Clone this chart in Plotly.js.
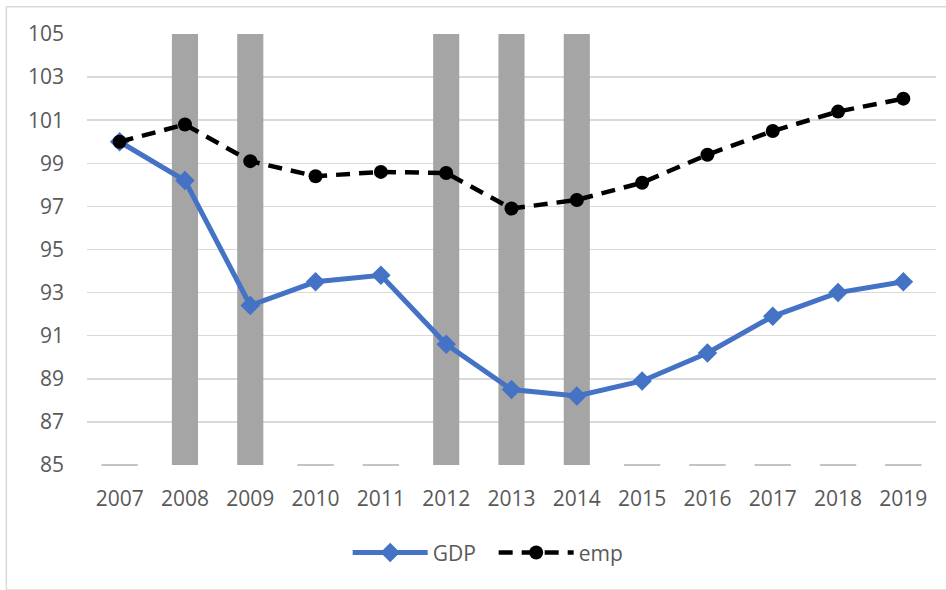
<!DOCTYPE html>
<html>
<head>
<meta charset="utf-8">
<script src="https://cdn.plot.ly/plotly-3.0.1.min.js"></script>
<style>html,body{margin:0;padding:0;background:#fff;}#chart{width:946px;height:590px;}</style>
</head>
<body>
<div id="chart"></div>
<script>
var years = ['2007','2008','2009','2010','2011','2012','2013','2014','2015','2016','2017','2018','2019'];
var gdp = [100.0, 98.2, 92.4, 93.5, 93.8, 90.6, 88.5, 88.2, 88.9, 90.2, 91.9, 93.0, 93.5];
var emp = [100.0, 100.8, 99.1, 98.4, 98.6, 98.55, 96.9, 97.3, 98.1, 99.4, 100.5, 101.4, 102.0];
var recession = [85, 105, 105, 85, 85, 105, 105, 105, 85, 85, 85, 85, 85];

var font = 'Open Sans, Liberation Sans, sans-serif';
var barX = years.filter(function(y, i){ return recession[i] > 85; });
var barY = recession.filter(function(v){ return v > 85; });
var flatX = years.filter(function(y, i){ return recession[i] <= 85; });
var flatY = recession.filter(function(v){ return v <= 85; });

var traces = [
  {type:'bar', x: barX, y: barY, marker:{color:'#a5a5a5'}, width:0.4, showlegend:false, hoverinfo:'skip'},
  {type:'scatter', mode:'markers', x: flatX, y: flatY, marker:{symbol:'line-ew', size:26, line:{color:'#b0b0b0', width:1.5}}, showlegend:false, hoverinfo:'skip', cliponaxis:false},
  {type:'scatter', mode:'lines+markers', name:'GDP', x: years, y: gdp,
   line:{color:'#4472c4', width:5}, marker:{symbol:'diamond', size:15, color:'#4472c4'}},
  {type:'scatter', mode:'lines+markers', name:'emp', x: years, y: emp,
   line:{color:'#000000', width:4.5, dash:'14px,9px'}, marker:{symbol:'circle', size:14, color:'#000000'}}
];

var layout = {
  width:946, height:590,
  margin:{l:87, r:10, t:34, b:125},
  paper_bgcolor:'#ffffff', plot_bgcolor:'#ffffff',
  font:{family:font, size:21, color:'#595959'},
  barmode:'overlay',
  xaxis:{type:'category', categoryorder:'array', categoryarray: years, range:[-0.5, 12.5], autorange:false,
         showgrid:false, showline:false, zeroline:false, ticks:'', ticklabelstandoff:19,
         tickfont:{family:font, size:21, color:'#595959'}, fixedrange:true},
  yaxis:{range:[85,105], autorange:false, tick0:85, dtick:2, showgrid:true, gridcolor:'#d9d9d9', gridwidth:1.5,
         zeroline:false, showline:false, ticks:'', ticklabelstandoff:22,
         tickfont:{family:font, size:21, color:'#595959'}, fixedrange:true},
  legend:{orientation:'h', x:0.479, xanchor:'center', y:-0.204, yanchor:'middle',
          font:{family:font, size:21, color:'#595959'}, itemwidth:75, entrywidth:56, entrywidthmode:'pixels', traceorder:'normal'},
  shapes:[{type:'rect', xref:'paper', yref:'paper', x0:-0.095, x1:1.02, y0:-0.29, y1:1.063,
           line:{color:'#d9d9d9', width:1.5}, fillcolor:'rgba(0,0,0,0)', layer:'below'}],
  showlegend:true
};

Plotly.newPlot('chart', traces, layout, {displayModeBar:false, staticPlot:true});
</script>
</body>
</html>
